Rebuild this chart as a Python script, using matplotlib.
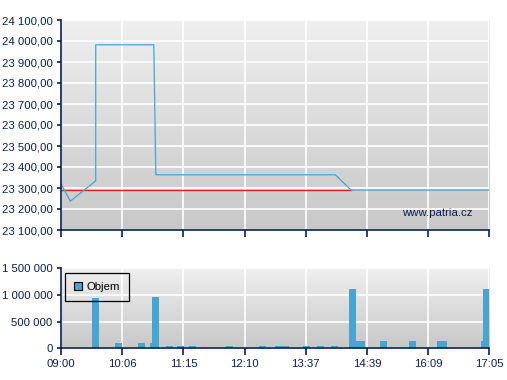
import numpy as np
import matplotlib
matplotlib.use("Agg")
import matplotlib.pyplot as plt
from matplotlib.patches import Patch

# x positions are in "tick units": the time axis has 7 equal steps between labels
time_labels = ["09:00", "10:06", "11:15", "12:10", "13:37", "14:39", "16:09", "17:05"]

# index line
line_x = [0, 0.152, 0.567, 0.567, 1.516, 1.549, 4.48, 4.74, 7.0]
line_y = [23320, 23237, 23334, 23982, 23982, 23363, 23363, 23290, 23290]
prev_close = 23290
prev_close_end = 4.74

# volume bars (left edge, volume)
bar_x = [0.507, 0.883, 1.259, 1.456, 1.488, 1.717, 1.897, 2.094, 2.699, 3.238,
         3.500, 3.615, 3.958, 4.187, 4.416, 4.711, 4.825, 4.858, 5.218, 5.692,
         6.150, 6.199, 6.853, 6.886]
bar_v = [940000, 100000, 100000, 100000, 970000, 40000, 40000, 40000, 40000, 40000,
         40000, 40000, 40000, 40000, 40000, 1115000, 135000, 135000, 135000, 135000,
         135000, 135000, 135000, 1115000]

price_ticks = np.arange(23100, 24101, 100)
vol_ticks = [0, 500000, 1000000, 1500000]

navy = "#0b1f4f"
blue = "#47a5d0"
plt.rcParams["font.family"] = ["Liberation Sans", "DejaVu Sans"]
plt.rcParams["font.size"] = 8.2

W, H = 507, 380
fig = plt.figure(figsize=(W / 100, H / 100), dpi=100)
left = 61 / W
width = 428.5 / W
ax1 = fig.add_axes([left, 150 / H, width, 210 / H])
ax2 = fig.add_axes([left, 31.7 / H, width, 80 / H])


def style(ax):
    grad = np.linspace(0, 1, 256).reshape(-1, 1)
    ax.imshow(grad, extent=[0, 1, 0, 1], transform=ax.transAxes, aspect="auto",
              cmap=matplotlib.colors.LinearSegmentedColormap.from_list("g", ["#efefef", "#c8c8c8"]),
              origin="upper", zorder=0)
    ax.set_xlim(0, 7)
    ax.set_xticks(range(8))
    ax.grid(True, color="white", linewidth=1.2, zorder=1)
    ax.set_axisbelow(True)
    for s in ["top", "right"]:
        ax.spines[s].set_visible(False)
    for s in ["left", "bottom"]:
        ax.spines[s].set_color(navy)
        ax.spines[s].set_linewidth(1.2)
        ax.spines[s].set_zorder(5)
    ax.tick_params(axis="x", direction="out", length=5, width=1.2, color=navy,
                   labelcolor=navy, pad=3)
    ax.tick_params(axis="y", direction="out", length=3, width=1.2, color=navy,
                   labelcolor=navy, pad=3)


style(ax1)
ax1.set_ylim(23100, 24100)
ax1.set_yticks(price_ticks)
ax1.set_yticklabels(["{:,.2f}".format(v).replace(",", " ").replace(".", ",") for v in price_ticks])
ax1.set_xticklabels([])
ax1.plot([0, prev_close_end], [prev_close, prev_close], color="#e0202a", lw=1.0, zorder=3)
ax1.plot(line_x, line_y, color=blue, lw=0.9, zorder=4)
ax1.text((473 - 61) / 428.5, (230 - 213) / 210, "www.patria.cz", transform=ax1.transAxes,
         ha="right", va="center", color=navy, zorder=6)

style(ax2)
ax2.set_ylim(0, 1500000)
ax2.set_yticks(vol_ticks)
ax2.set_yticklabels(["{:,}".format(v).replace(",", " ") for v in vol_ticks])
ax2.set_xticklabels(time_labels)
ax2.bar(bar_x, bar_v, width=7 / 61.2, align="edge", color=blue, zorder=3)
ax2.legend(handles=[Patch(facecolor=blue, edgecolor="black", linewidth=0.8, label="Objem")],
           loc="upper left", bbox_to_anchor=(0.009, 0.94), borderaxespad=0,
           frameon=True, fancybox=False, edgecolor="black", facecolor="none",
           framealpha=1, handlelength=0.7, handleheight=0.7, handletextpad=0.4,
           borderpad=0.8, labelcolor="black")
ax2.get_legend().get_frame().set_linewidth(0.9)
ax2.get_legend().set_zorder(6)

fig.savefig("out.png", dpi=100)
